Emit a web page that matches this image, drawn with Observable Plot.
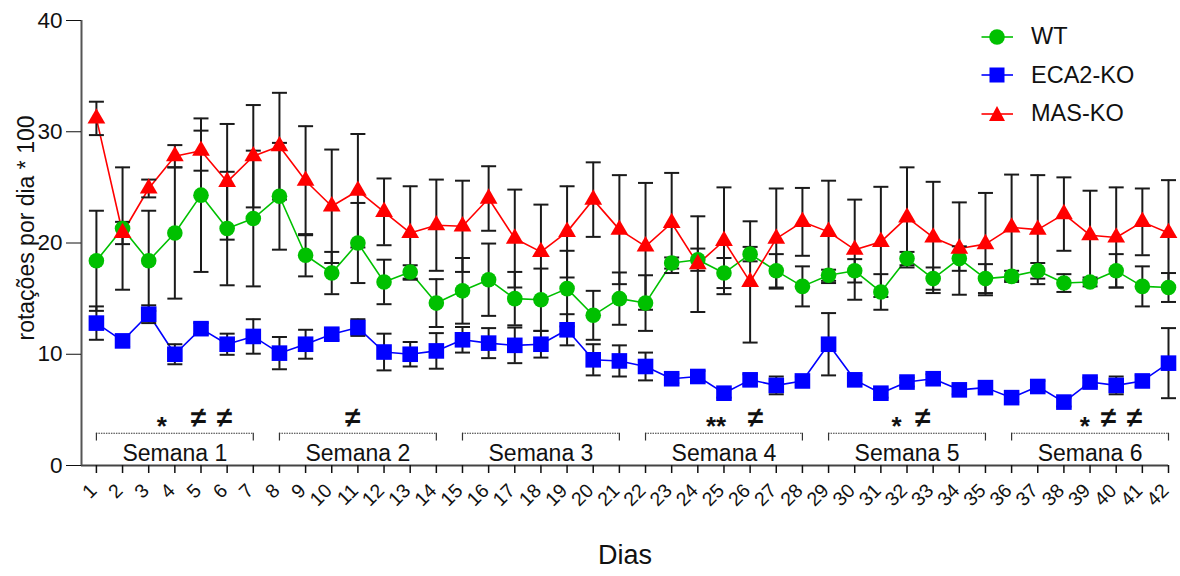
<!DOCTYPE html>
<html><head><meta charset="utf-8">
<script src="https://cdn.jsdelivr.net/npm/d3@7"></script>
<script src="https://cdn.jsdelivr.net/npm/@observablehq/plot@0.6"></script>
<style>
body{margin:0;background:#fff;font-family:"Liberation Sans",Arial,sans-serif;}
#wrap{position:relative;width:1180px;height:576px;}
#legend{position:absolute;left:980px;top:17.5px;}
.item{display:flex;align-items:center;height:38.5px;font-size:23.5px;color:#111;}
.item svg{margin-right:17px;}
</style></head><body><div id="wrap"><div id="chart"></div><div id="legend"></div></div>
<script>
const days = [1,2,3,4,5,6,7,8,9,10,11,12,13,14,15,16,17,18,19,20,21,22,23,24,25,26,27,28,29,30,31,32,33,34,35,36,37,38,39,40,41,42];

const wtMean = [18.4,21.3,18.4,20.9,24.3,21.3,22.2,24.2,18.9,17.3,20.0,16.5,17.4,14.6,15.7,16.7,15.0,14.9,15.9,13.5,15.0,14.6,18.2,18.5,17.3,19.0,17.5,16.1,17.1,17.5,15.6,18.6,16.8,18.6,16.8,17.0,17.5,16.4,16.5,17.5,16.1,16.0];
const wtErr  = [4.5,5.5,4.5,5.9,6.9,5.1,6.1,4.8,1.9,1.9,3.6,2.0,0.6,2.15,2.95,3.25,2.4,2.8,3.4,2.2,2.35,2.5,0.5,1.0,1.35,0.65,1.5,1.8,0.5,1.05,1.6,0.6,1.0,1.1,1.3,0.5,0.7,0.8,0.4,1.5,1.8,1.3];

const ecaMean = [12.8,11.2,13.6,10.0,12.3,10.9,11.6,10.1,10.9,11.8,12.4,10.2,10.0,10.3,11.3,11.0,10.8,10.9,12.2,9.5,9.4,8.9,7.8,8.0,6.5,7.7,7.2,7.6,10.9,7.7,6.5,7.5,7.8,6.8,7.0,6.1,7.1,5.7,7.5,7.2,7.6,9.2];
const ecaErr  = [1.5,0.5,0.8,0.9,0.5,0.95,1.55,1.45,1.3,0.5,0.75,1.65,1.1,1.6,1.15,1.35,1.6,1.2,1.4,1.4,1.4,1.25,0.4,0.5,0.4,0.5,0.8,0.4,2.8,0.4,0.4,0.4,0.4,0.4,0.4,0.4,0.5,0.4,0.4,0.8,0.5,3.15];

const masMean = [31.2,20.9,24.9,27.8,28.3,25.5,27.8,28.7,25.6,23.3,24.7,22.8,20.9,21.6,21.5,24.0,20.4,19.2,21.0,23.9,21.2,19.7,21.8,18.1,20.2,16.5,20.4,21.9,21.0,19.4,20.1,22.3,20.5,19.5,19.9,21.4,21.2,22.6,20.7,20.5,21.9,20.9];
const masErr  = [1.5,1.0,0.8,1.0,1.8,5.2,4.6,4.8,4.9,5.1,5.1,3.0,4.2,4.1,4.1,2.9,4.4,4.25,4.1,3.35,4.9,5.7,4.5,4.3,4.8,5.45,4.5,3.05,4.6,4.5,4.95,4.5,5.0,4.15,4.6,4.75,4.9,3.3,4.0,4.5,3.0,4.75];

const seriesNames = ["WT","ECA2-KO","MAS-KO"];
const weekNames = ["Semana 1","Semana 2","Semana 3","Semana 4","Semana 5","Semana 6"];
const weekStart = [1,8,15,22,29,36];
const weekEnd = [7,14,21,28,35,42];

const starX = [3.5,31.6,38.8];
const starText = ["*","*","*"];
const dstarX = [24.7];
const dstarText = ["**"];
const neqX = [4.9,5.9,10.8,26.2,32.6,39.7,40.7];
const neqText = ["≠","≠","≠","≠","≠","≠","≠"];

const yTicks = [0,10,20,30,40];
const yLabel = "rotações por dia * 100";
const xLabel = "Dias";

const styles = [
  {color:"#00c000", symbol:"circle", r:7.8},
  {color:"#0000ff", symbol:"square", r:8.8},
  {color:"#ff0000", symbol:"triangle", r:6.6}
];
const means = [wtMean, ecaMean, masMean];
const errs = [wtErr, ecaErr, masErr];

const tables = seriesNames.map((name, s) => days.map((d, i) => ({series:name, day:d, v:means[s][i], e:errs[s][i]})));
const weeks = weekNames.map((n,i)=>({name:n, start:weekStart[i], end:weekEnd[i]}));

const capSymbol = {draw(ctx){ ctx.moveTo(-7.5,0); ctx.lineTo(7.5,0); }};
const xDomain = [0.43, 42];
const barColor = "#1a1a1a";

const marks = [];
marks.push(Plot.ruleY([0], {stroke:"#444", strokeWidth:2}));
marks.push(Plot.ruleX([xDomain[0]], {stroke:"#555", strokeWidth:2}));
tables.forEach((t,s)=> marks.push(Plot.line(t, {x:"day", y:"v", stroke:styles[s].color, strokeWidth:1.6})));
tables.forEach((t,s)=> {
  marks.push(Plot.ruleX(t, {x:"day", y1:d=>d.v-d.e, y2:d=>d.v+d.e, stroke:barColor, strokeWidth:2}));
  marks.push(Plot.dot(t, {x:"day", y:d=>d.v+d.e, symbol:capSymbol, r:5, fill:"none", stroke:barColor, strokeWidth:2}));
  marks.push(Plot.dot(t, {x:"day", y:d=>d.v-d.e, symbol:capSymbol, r:5, fill:"none", stroke:barColor, strokeWidth:2}));
});
tables.forEach((t,s)=> marks.push(Plot.dot(t, {x:"day", y:"v", symbol:styles[s].symbol, r:styles[s].r, fill:styles[s].color, stroke:"none"})));
marks.push(Plot.ruleY(weeks, {x1:"start", x2:"end", y:2.9, stroke:"#333", strokeWidth:1.2, strokeDasharray:"1.5,1"}));
marks.push(Plot.ruleX(weeks, {x:"start", y1:2.9, y2:2.2, stroke:"#333", strokeWidth:1.2}));
marks.push(Plot.ruleX(weeks, {x:"end", y1:2.9, y2:2.2, stroke:"#333", strokeWidth:1.2}));
marks.push(Plot.text(weeks, {x:d=>(d.start+d.end)/2, y:1.11, text:"name", fontSize:23, fill:"#111"}));
marks.push(Plot.text(starX.map((x,i)=>({x, t:starText[i]})), {x:"x", y:4.2, text:"t", fontSize:26, fontWeight:"bold", dy:8, fill:"#111"}));
marks.push(Plot.text(dstarX.map((x,i)=>({x, t:dstarText[i]})), {x:"x", y:4.2, text:"t", fontSize:26, fontWeight:"bold", dy:8, fill:"#111"}));
marks.push(Plot.text(neqX.map((x,i)=>({x, t:neqText[i]})), {x:"x", y:4.3, text:"t", fontSize:28, fontWeight:"bold", fill:"#111"}));
marks.push(Plot.axisY({ticks:yTicks, tickSize:15, tickPadding:4, fontSize:22.5, label:null, color:"#111"}));
marks.push(Plot.axisX({ticks:days, tickSize:8, text:null, label:null, color:"#111", strokeWidth:1.5}));
marks.push(Plot.text(days, {x:d=>d, frameAnchor:"bottom", text:d=>String(d), rotate:-45, textAnchor:"end", lineAnchor:"middle", dx:-3, dy:22, fontSize:19.5, fill:"#111"}));
marks.push(Plot.text([yLabel], {frameAnchor:"left", textAnchor:"middle", dx:-55, dy:-15, rotate:-90, fontSize:23, fill:"#111"}));
marks.push(Plot.text([xLabel], {frameAnchor:"bottom", dy:98, fontSize:27, fill:"#111"}));

const chart = Plot.plot({
  width:1180, height:576,
  marginLeft:81, marginRight:12, marginTop:20, marginBottom:111,
  style:{fontFamily:"Liberation Sans, Arial, sans-serif", background:"#fff", overflow:"visible"},
  x:{type:"linear", domain:xDomain},
  y:{domain:[0,40]},
  marks
});
document.getElementById("chart").appendChild(chart);

const legend = document.getElementById("legend");
seriesNames.forEach((name,s)=>{
  const st = styles[s];
  const item = document.createElement("div");
  item.className = "item";
  let shape;
  if (st.symbol==="circle") shape = `<circle cx="17" cy="12" r="7.8" fill="${st.color}"/>`;
  else if (st.symbol==="square") shape = `<rect x="9.5" y="4.5" width="15" height="15" fill="${st.color}"/>`;
  else shape = `<path d="M17,4 L25,19 L9,19 Z" fill="${st.color}"/>`;
  item.innerHTML = `<svg width="34" height="24"><line x1="1.5" x2="33" y1="12" y2="12" stroke="${st.color}" stroke-width="1.6"/>${shape}</svg><span>${name}</span>`;
  legend.appendChild(item);
});
</script></body></html>
